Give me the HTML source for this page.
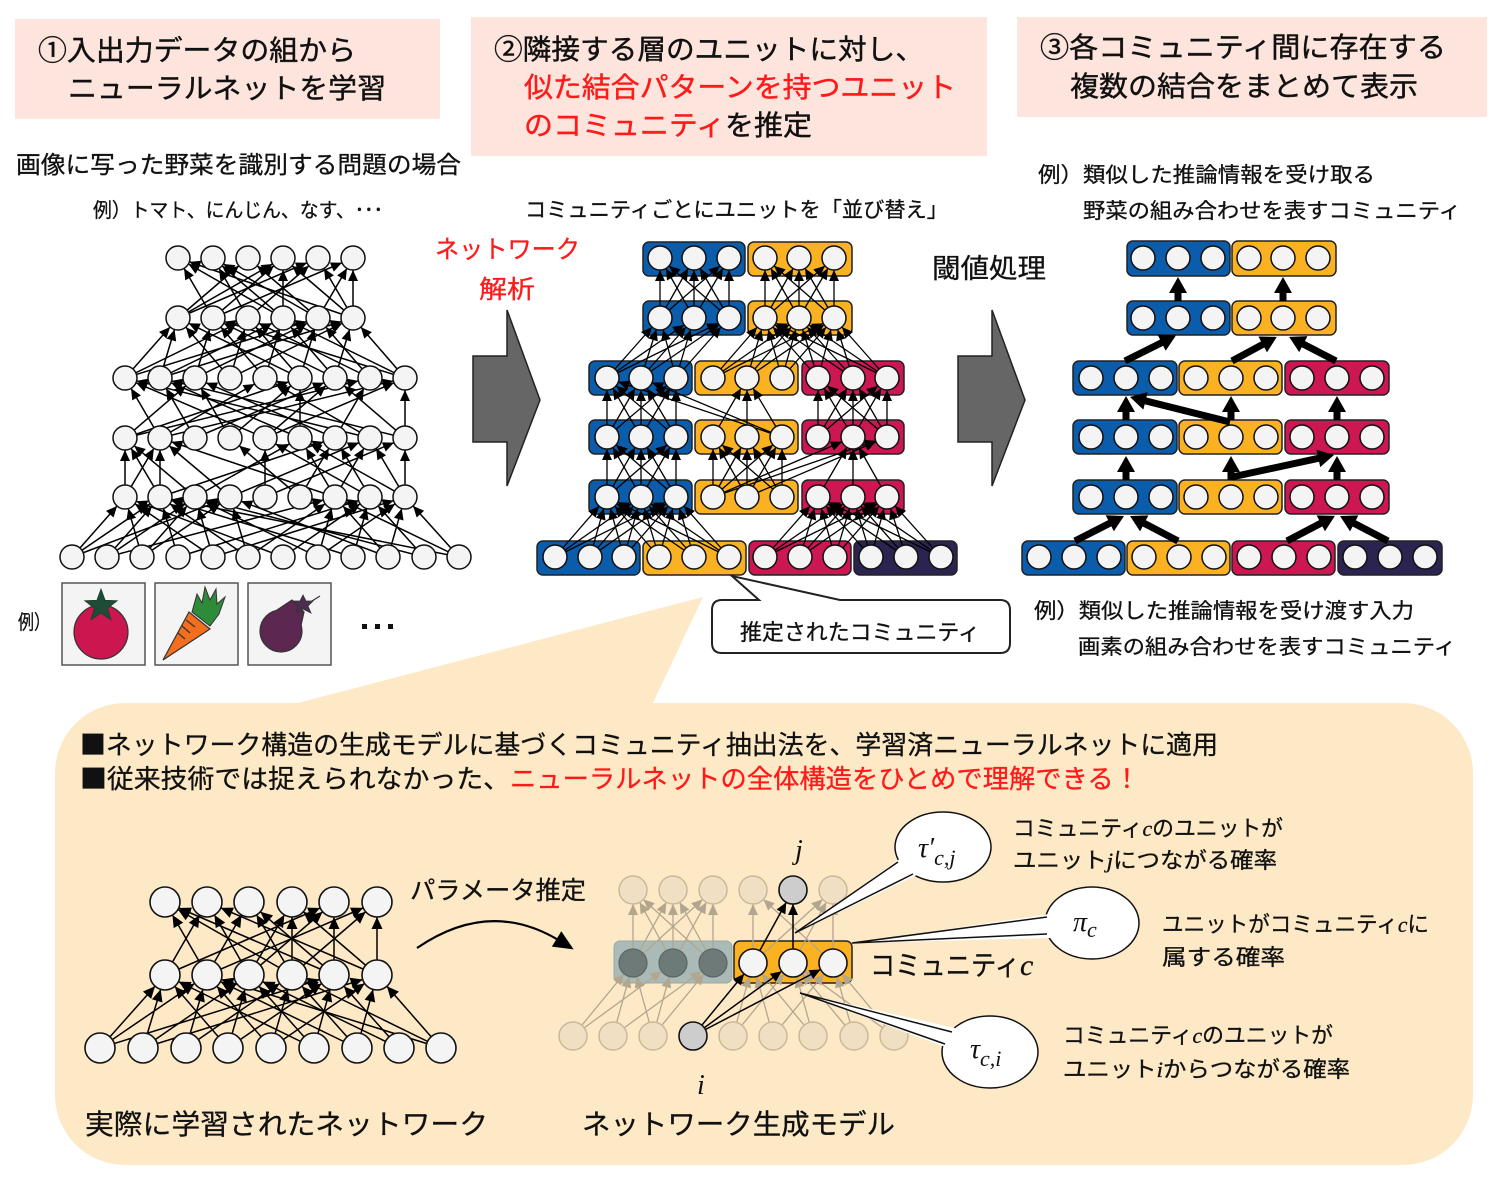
<!DOCTYPE html>
<html><head><meta charset="utf-8"><style>html,body{margin:0;padding:0;background:#fff}svg{display:block}</style></head>
<body>
<svg width="1500" height="1186" viewBox="0 0 1500 1186" xmlns="http://www.w3.org/2000/svg" font-family="'Liberation Sans','Noto Sans CJK JP',sans-serif">
<defs>
<marker id="a12" markerUnits="userSpaceOnUse" markerWidth="11" markerHeight="10" refX="23" refY="5" orient="auto" overflow="visible"><path d="M0,0L11,5L0,10z" fill="#000"/></marker>
<marker id="a15" markerUnits="userSpaceOnUse" markerWidth="12" markerHeight="11" refX="27" refY="5.5" orient="auto" overflow="visible"><path d="M0,0L12,5.5L0,11z" fill="#000"/></marker>
<marker id="a14" markerUnits="userSpaceOnUse" markerWidth="11" markerHeight="10" refX="25" refY="5" orient="auto" overflow="visible"><path d="M0,0L11,5L0,10z" fill="#000"/></marker>
<marker id="a14f" markerUnits="userSpaceOnUse" markerWidth="11" markerHeight="10" refX="25" refY="5" orient="auto" overflow="visible"><path d="M0,0L11,5L0,10z" fill="#b3a68e"/></marker>
<marker id="ath" markerUnits="userSpaceOnUse" markerWidth="18" markerHeight="18" refX="6" refY="9" orient="auto" overflow="visible"><path d="M0,0L16,9L0,18z" fill="#000"/></marker>
<marker id="acv" markerUnits="userSpaceOnUse" markerWidth="20" markerHeight="18" refX="4" refY="9" orient="auto" overflow="visible"><path d="M0,0L20,9L0,18z" fill="#000"/></marker>
</defs>
<rect width="1500" height="1186" fill="#fff"/>

<!-- header boxes -->
<rect x="15" y="19" width="425" height="100" fill="#fde4dc"/>
<rect x="471" y="17" width="516" height="139" fill="#fde4dc"/>
<rect x="1017" y="17" width="470" height="100" fill="#fde4dc"/>
<g font-size="28" fill="#111" stroke-width="0.4">
<text x="38" y="60" textLength="318" lengthAdjust="spacingAndGlyphs" stroke="#111">①入出力データの組から</text>
<text x="68" y="98" textLength="318" lengthAdjust="spacingAndGlyphs" stroke="#111">ニューラルネットを学習</text>
<text x="494" y="59" textLength="430" lengthAdjust="spacingAndGlyphs" stroke="#111">②隣接する層のユニットに対し、</text>
<text x="524" y="97" textLength="432" lengthAdjust="spacingAndGlyphs" fill="#ff1a1a" stroke="#ff1a1a">似た結合パターンを持つユニット</text>
<text x="524" y="135" textLength="288" lengthAdjust="spacingAndGlyphs" stroke="#111"><tspan fill="#ff1a1a" stroke="#ff1a1a">のコミュニティ</tspan>を推定</text>
<text x="1040" y="57" textLength="406" lengthAdjust="spacingAndGlyphs" stroke="#111">③各コミュニティ間に存在する</text>
<text x="1070" y="96" textLength="348" lengthAdjust="spacingAndGlyphs" stroke="#111">複数の結合をまとめて表示</text>
</g>
<g fill="#111" stroke="#111" stroke-width="0.3">
<text x="16" y="173" font-size="24" textLength="445" lengthAdjust="spacingAndGlyphs">画像に写った野菜を識別する問題の場合</text>
<text x="93" y="217" font-size="20" textLength="290" lengthAdjust="spacingAndGlyphs">例）トマト、にんじん、なす、･･･</text>
<text x="525" y="217" font-size="21" textLength="423" lengthAdjust="spacingAndGlyphs">コミュニティごとにユニットを「並び替え」</text>
<text x="932" y="278" font-size="27" textLength="114" lengthAdjust="spacingAndGlyphs">閾値処理</text>
<text x="1038" y="182" font-size="21" textLength="337" lengthAdjust="spacingAndGlyphs">例）類似した推論情報を受け取る</text>
<text x="1083" y="218" font-size="21" textLength="378" lengthAdjust="spacingAndGlyphs">野菜の組み合わせを表すコミュニティ</text>
<text x="1034" y="618" font-size="21" textLength="380" lengthAdjust="spacingAndGlyphs">例）類似した推論情報を受け渡す入力</text>
<text x="1078" y="654" font-size="21" textLength="378" lengthAdjust="spacingAndGlyphs">画素の組み合わせを表すコミュニティ</text>
<text x="18" y="629" font-size="20" textLength="32" lengthAdjust="spacingAndGlyphs">例）</text>
</g>
<g fill="#ff1a1a" font-size="25" stroke="#ff1a1a" stroke-width="0.3">
<text x="435" y="258" textLength="145" lengthAdjust="spacingAndGlyphs">ネットワーク</text>
<text x="479" y="298" textLength="56" lengthAdjust="spacingAndGlyphs">解析</text>
</g>

<!-- big gray arrows -->
<polygon points="473,356 507,356 507,310 540,400 507,486 507,442 473,442" fill="#666" stroke="#222" stroke-width="1.5"/>
<polygon points="958,356 992,356 992,310 1025,400 992,486 992,442 958,442" fill="#666" stroke="#222" stroke-width="1.5"/>

<!-- orange region -->
<rect x="55" y="703" width="1418" height="462" rx="70" fill="#fde9c6"/>
<polygon points="290,705 703,597 652,705" fill="#fde9c6"/>

<!-- LEFT NETWORK lines -->
<g stroke="#000" stroke-width="1.5" marker-end="url(#a12)">
<line x1="178" y1="318" x2="248" y2="258"/><line x1="178" y1="318" x2="283" y2="258"/><line x1="178" y1="318" x2="318" y2="258"/>
<line x1="213" y1="318" x2="178" y2="258"/><line x1="213" y1="318" x2="283" y2="258"/><line x1="213" y1="318" x2="353" y2="258"/>
<line x1="248" y1="318" x2="213" y2="258"/><line x1="248" y1="318" x2="318" y2="258"/>
<line x1="283" y1="318" x2="178" y2="258"/><line x1="283" y1="318" x2="213" y2="258"/><line x1="283" y1="318" x2="283" y2="258"/>
<line x1="318" y1="318" x2="213" y2="258"/><line x1="318" y1="318" x2="248" y2="258"/><line x1="318" y1="318" x2="353" y2="258"/>
<line x1="353" y1="318" x2="178" y2="258"/><line x1="353" y1="318" x2="283" y2="258"/><line x1="353" y1="318" x2="318" y2="258"/><line x1="353" y1="318" x2="353" y2="258"/>

<line x1="125" y1="378" x2="178" y2="318"/><line x1="125" y1="378" x2="248" y2="318"/><line x1="125" y1="378" x2="318" y2="318"/>
<line x1="160" y1="378" x2="178" y2="318"/><line x1="160" y1="378" x2="283" y2="318"/><line x1="160" y1="378" x2="353" y2="318"/>
<line x1="195" y1="378" x2="213" y2="318"/><line x1="195" y1="378" x2="318" y2="318"/>
<line x1="230" y1="378" x2="178" y2="318"/><line x1="230" y1="378" x2="248" y2="318"/><line x1="230" y1="378" x2="353" y2="318"/>
<line x1="265" y1="378" x2="213" y2="318"/><line x1="265" y1="378" x2="283" y2="318"/>
<line x1="300" y1="378" x2="248" y2="318"/><line x1="300" y1="378" x2="318" y2="318"/><line x1="300" y1="378" x2="178" y2="318"/>
<line x1="335" y1="378" x2="213" y2="318"/><line x1="335" y1="378" x2="283" y2="318"/><line x1="335" y1="378" x2="353" y2="318"/>
<line x1="370" y1="378" x2="248" y2="318"/><line x1="370" y1="378" x2="318" y2="318"/>
<line x1="405" y1="378" x2="353" y2="318"/><line x1="405" y1="378" x2="283" y2="318"/><line x1="405" y1="378" x2="213" y2="318"/>

<line x1="125" y1="438" x2="195" y2="378"/><line x1="125" y1="438" x2="300" y2="378"/><line x1="125" y1="438" x2="370" y2="378"/>
<line x1="160" y1="438" x2="125" y2="378"/><line x1="160" y1="438" x2="265" y2="378"/><line x1="160" y1="438" x2="405" y2="378"/>
<line x1="195" y1="438" x2="160" y2="378"/><line x1="195" y1="438" x2="335" y2="378"/>
<line x1="230" y1="438" x2="195" y2="378"/><line x1="230" y1="438" x2="300" y2="378"/>
<line x1="265" y1="438" x2="125" y2="378"/><line x1="265" y1="438" x2="335" y2="378"/><line x1="265" y1="438" x2="405" y2="378"/>
<line x1="300" y1="438" x2="300" y2="378"/><line x1="300" y1="438" x2="160" y2="378"/>
<line x1="335" y1="438" x2="195" y2="378"/><line x1="335" y1="438" x2="370" y2="378"/>
<line x1="370" y1="438" x2="125" y2="378"/><line x1="370" y1="438" x2="265" y2="378"/>
<line x1="405" y1="438" x2="405" y2="378"/><line x1="405" y1="438" x2="335" y2="378"/><line x1="405" y1="438" x2="160" y2="378"/>

<line x1="125" y1="497" x2="125" y2="438"/><line x1="125" y1="497" x2="160" y2="438"/>
<line x1="160" y1="497" x2="160" y2="438"/><line x1="160" y1="497" x2="125" y2="438"/><line x1="160" y1="497" x2="335" y2="438"/>
<line x1="195" y1="497" x2="125" y2="438"/><line x1="195" y1="497" x2="300" y2="438"/>
<line x1="230" y1="497" x2="160" y2="438"/><line x1="230" y1="497" x2="370" y2="438"/>
<line x1="265" y1="497" x2="265" y2="438"/><line x1="265" y1="497" x2="405" y2="438"/>
<line x1="300" y1="497" x2="335" y2="438"/><line x1="300" y1="497" x2="230" y2="438"/>
<line x1="335" y1="497" x2="300" y2="438"/><line x1="335" y1="497" x2="370" y2="438"/><line x1="335" y1="497" x2="160" y2="438"/>
<line x1="370" y1="497" x2="265" y2="438"/><line x1="370" y1="497" x2="335" y2="438"/>
<line x1="405" y1="497" x2="405" y2="438"/><line x1="405" y1="497" x2="300" y2="438"/><line x1="405" y1="497" x2="370" y2="438"/>

<line x1="72" y1="557" x2="125" y2="497"/><line x1="72" y1="557" x2="160" y2="497"/><line x1="72" y1="557" x2="230" y2="497"/>
<line x1="107" y1="557" x2="160" y2="497"/><line x1="107" y1="557" x2="195" y2="497"/><line x1="107" y1="557" x2="335" y2="497"/>
<line x1="142" y1="557" x2="125" y2="497"/><line x1="142" y1="557" x2="230" y2="497"/><line x1="142" y1="557" x2="195" y2="497"/>
<line x1="178" y1="557" x2="160" y2="497"/><line x1="178" y1="557" x2="370" y2="497"/>
<line x1="213" y1="557" x2="195" y2="497"/><line x1="213" y1="557" x2="125" y2="497"/><line x1="213" y1="557" x2="405" y2="497"/>
<line x1="248" y1="557" x2="230" y2="497"/><line x1="248" y1="557" x2="160" y2="497"/><line x1="248" y1="557" x2="335" y2="497"/>
<line x1="283" y1="557" x2="125" y2="497"/><line x1="283" y1="557" x2="370" y2="497"/>
<line x1="318" y1="557" x2="195" y2="497"/><line x1="318" y1="557" x2="335" y2="497"/><line x1="318" y1="557" x2="405" y2="497"/>
<line x1="353" y1="557" x2="160" y2="497"/><line x1="353" y1="557" x2="370" y2="497"/>
<line x1="388" y1="557" x2="230" y2="497"/><line x1="388" y1="557" x2="335" y2="497"/><line x1="388" y1="557" x2="405" y2="497"/>
<line x1="424" y1="557" x2="195" y2="497"/><line x1="424" y1="557" x2="370" y2="497"/>
<line x1="459" y1="557" x2="160" y2="497"/><line x1="459" y1="557" x2="335" y2="497"/><line x1="459" y1="557" x2="405" y2="497"/>
</g>
<!-- LEFT NETWORK circles -->
<g fill="#f4f4f4" stroke="#111" stroke-width="1.5">
<circle cx="178" cy="258" r="12"/><circle cx="213" cy="258" r="12"/><circle cx="248" cy="258" r="12"/><circle cx="283" cy="258" r="12"/><circle cx="318" cy="258" r="12"/><circle cx="353" cy="258" r="12"/>
<circle cx="178" cy="318" r="12"/><circle cx="213" cy="318" r="12"/><circle cx="248" cy="318" r="12"/><circle cx="283" cy="318" r="12"/><circle cx="318" cy="318" r="12"/><circle cx="353" cy="318" r="12"/>
<circle cx="125" cy="378" r="12"/><circle cx="160" cy="378" r="12"/><circle cx="195" cy="378" r="12"/><circle cx="230" cy="378" r="12"/><circle cx="265" cy="378" r="12"/><circle cx="300" cy="378" r="12"/><circle cx="335" cy="378" r="12"/><circle cx="370" cy="378" r="12"/><circle cx="405" cy="378" r="12"/>
<circle cx="125" cy="438" r="12"/><circle cx="160" cy="438" r="12"/><circle cx="195" cy="438" r="12"/><circle cx="230" cy="438" r="12"/><circle cx="265" cy="438" r="12"/><circle cx="300" cy="438" r="12"/><circle cx="335" cy="438" r="12"/><circle cx="370" cy="438" r="12"/><circle cx="405" cy="438" r="12"/>
<circle cx="125" cy="497" r="12"/><circle cx="160" cy="497" r="12"/><circle cx="195" cy="497" r="12"/><circle cx="230" cy="497" r="12"/><circle cx="265" cy="497" r="12"/><circle cx="300" cy="497" r="12"/><circle cx="335" cy="497" r="12"/><circle cx="370" cy="497" r="12"/><circle cx="405" cy="497" r="12"/>
<circle cx="72" cy="557" r="12"/><circle cx="107" cy="557" r="12"/><circle cx="142" cy="557" r="12"/><circle cx="178" cy="557" r="12"/><circle cx="213" cy="557" r="12"/><circle cx="248" cy="557" r="12"/><circle cx="283" cy="557" r="12"/><circle cx="318" cy="557" r="12"/><circle cx="353" cy="557" r="12"/><circle cx="388" cy="557" r="12"/><circle cx="424" cy="557" r="12"/><circle cx="459" cy="557" r="12"/>
</g>

<!-- vegetables -->
<g stroke="#555" stroke-width="1.5" fill="#f4f4f4">
<rect x="62" y="583" width="83" height="82"/><rect x="155" y="583" width="83" height="82"/><rect x="248" y="583" width="83" height="82"/>
</g>
<circle cx="101" cy="632" r="27" fill="#cc1650" stroke="#333" stroke-width="1.2"/>
<polygon points="101,589 105.1,600.3 117.2,600.7 107.7,608.2 111,619.8 101,613 91,619.8 94.3,608.2 84.8,600.7 96.9,600.3" fill="#1d4d36" stroke="#1d3d2a" stroke-width="0.8"/>
<polygon points="192,612 197,594 202,603 205,587 210,600 216,589 217,604 225,597 219,614 210,626" fill="#2e8b3a" stroke="#333" stroke-width="1"/>
<polygon points="163,660 189,612 210,629" fill="#f36f1d" stroke="#333" stroke-width="1.2"/>
<g stroke="#333" stroke-width="1.2"><line x1="182" y1="626" x2="190" y2="633"/><line x1="186" y1="620" x2="195" y2="627"/><line x1="178" y1="633" x2="185" y2="639"/></g>
<polygon points="268,616 292,600 304,612 300,630" fill="#5c2750" stroke="#333" stroke-width="1.2"/>
<circle cx="281" cy="631" r="21" fill="#5c2750" stroke="#333" stroke-width="1.2"/>
<polygon points="269,617 292,601 303,613 299,630 285,625" fill="#5c2750"/>
<line x1="304" y1="606" x2="320" y2="596" stroke="#333" stroke-width="1.2"/>
<polygon points="303,595 306,601 313,601 308,606 311,613 303,609 296,613 298,606 293,601 300,601" fill="#4b2e4d" stroke="#333" stroke-width="0.8"/>
<g fill="#111"><rect x="362" y="624" width="5" height="5"/><rect x="375" y="624" width="5" height="5"/><rect x="388" y="624" width="5" height="5"/></g>

<!-- MIDDLE NETWORK boxes -->
<g stroke="#222" stroke-width="1.5">
<rect x="643" y="242" width="102" height="34" rx="6" fill="#0b5cab"/><rect x="748" y="242" width="104" height="34" rx="6" fill="#fbb222"/>
<rect x="643" y="301" width="102" height="34" rx="6" fill="#0b5cab"/><rect x="748" y="301" width="104" height="34" rx="6" fill="#fbb222"/>
<rect x="589" y="361" width="103" height="34" rx="6" fill="#0b5cab"/><rect x="695" y="361" width="103" height="34" rx="6" fill="#fbb222"/><rect x="802" y="361" width="102" height="34" rx="6" fill="#cc1752"/>
<rect x="589" y="420" width="103" height="34" rx="6" fill="#0b5cab"/><rect x="695" y="420" width="103" height="34" rx="6" fill="#fbb222"/><rect x="802" y="420" width="102" height="34" rx="6" fill="#cc1752"/>
<rect x="589" y="480" width="103" height="34" rx="6" fill="#0b5cab"/><rect x="695" y="480" width="103" height="34" rx="6" fill="#fbb222"/><rect x="802" y="480" width="102" height="34" rx="6" fill="#cc1752"/>
<rect x="537" y="541" width="103" height="34" rx="6" fill="#0b5cab"/><rect x="643" y="541" width="103" height="34" rx="6" fill="#fbb222"/><rect x="749" y="541" width="102" height="34" rx="6" fill="#cc1752"/><rect x="854" y="541" width="103" height="34" rx="6" fill="#2b2350"/>
</g>
<!-- MIDDLE NETWORK lines -->
<g stroke="#000" stroke-width="1.3" marker-end="url(#a12)">
<line x1="660" y1="318" x2="660" y2="258"/><line x1="660" y1="318" x2="694" y2="258"/><line x1="660" y1="318" x2="729" y2="258"/>
<line x1="694" y1="318" x2="660" y2="258"/><line x1="694" y1="318" x2="694" y2="258"/><line x1="694" y1="318" x2="729" y2="258"/>
<line x1="729" y1="318" x2="660" y2="258"/><line x1="729" y1="318" x2="694" y2="258"/><line x1="729" y1="318" x2="729" y2="258"/>
<line x1="765" y1="318" x2="765" y2="258"/><line x1="765" y1="318" x2="799" y2="258"/><line x1="765" y1="318" x2="834" y2="258"/>
<line x1="799" y1="318" x2="765" y2="258"/><line x1="799" y1="318" x2="799" y2="258"/><line x1="799" y1="318" x2="834" y2="258"/>
<line x1="834" y1="318" x2="765" y2="258"/><line x1="834" y1="318" x2="799" y2="258"/><line x1="834" y1="318" x2="834" y2="258"/>

<line x1="607" y1="378" x2="660" y2="318"/><line x1="607" y1="378" x2="694" y2="318"/><line x1="607" y1="378" x2="729" y2="318"/>
<line x1="641" y1="378" x2="660" y2="318"/><line x1="641" y1="378" x2="694" y2="318"/><line x1="641" y1="378" x2="729" y2="318"/>
<line x1="676" y1="378" x2="660" y2="318"/><line x1="676" y1="378" x2="694" y2="318"/><line x1="676" y1="378" x2="729" y2="318"/>
<line x1="713" y1="378" x2="765" y2="318"/><line x1="713" y1="378" x2="799" y2="318"/><line x1="713" y1="378" x2="834" y2="318"/>
<line x1="747" y1="378" x2="765" y2="318"/><line x1="747" y1="378" x2="799" y2="318"/><line x1="747" y1="378" x2="834" y2="318"/>
<line x1="782" y1="378" x2="765" y2="318"/><line x1="782" y1="378" x2="799" y2="318"/><line x1="782" y1="378" x2="834" y2="318"/>
<line x1="818" y1="378" x2="765" y2="318"/><line x1="818" y1="378" x2="799" y2="318"/><line x1="818" y1="378" x2="834" y2="318"/>
<line x1="853" y1="378" x2="765" y2="318"/><line x1="853" y1="378" x2="799" y2="318"/><line x1="853" y1="378" x2="834" y2="318"/>
<line x1="887" y1="378" x2="765" y2="318"/><line x1="887" y1="378" x2="799" y2="318"/><line x1="887" y1="378" x2="834" y2="318"/>

<line x1="607" y1="437" x2="607" y2="378"/><line x1="607" y1="437" x2="641" y2="378"/><line x1="607" y1="437" x2="676" y2="378"/>
<line x1="641" y1="437" x2="607" y2="378"/><line x1="641" y1="437" x2="641" y2="378"/><line x1="641" y1="437" x2="676" y2="378"/>
<line x1="676" y1="437" x2="607" y2="378"/><line x1="676" y1="437" x2="641" y2="378"/><line x1="676" y1="437" x2="676" y2="378"/>
<line x1="713" y1="437" x2="747" y2="378"/><line x1="747" y1="437" x2="747" y2="378"/><line x1="782" y1="437" x2="747" y2="378"/>
<line x1="782" y1="437" x2="607" y2="378"/><line x1="782" y1="437" x2="641" y2="378"/>
<line x1="818" y1="437" x2="818" y2="378"/><line x1="818" y1="437" x2="853" y2="378"/><line x1="818" y1="437" x2="887" y2="378"/>
<line x1="853" y1="437" x2="818" y2="378"/><line x1="853" y1="437" x2="853" y2="378"/><line x1="853" y1="437" x2="887" y2="378"/>
<line x1="887" y1="437" x2="818" y2="378"/><line x1="887" y1="437" x2="853" y2="378"/><line x1="887" y1="437" x2="887" y2="378"/>

<line x1="607" y1="497" x2="607" y2="437"/><line x1="607" y1="497" x2="641" y2="437"/><line x1="607" y1="497" x2="676" y2="437"/>
<line x1="641" y1="497" x2="607" y2="437"/><line x1="641" y1="497" x2="641" y2="437"/><line x1="641" y1="497" x2="676" y2="437"/>
<line x1="676" y1="497" x2="607" y2="437"/><line x1="676" y1="497" x2="641" y2="437"/><line x1="676" y1="497" x2="676" y2="437"/>
<line x1="713" y1="497" x2="713" y2="437"/><line x1="713" y1="497" x2="747" y2="437"/><line x1="713" y1="497" x2="782" y2="437"/>
<line x1="747" y1="497" x2="713" y2="437"/><line x1="747" y1="497" x2="747" y2="437"/><line x1="747" y1="497" x2="782" y2="437"/>
<line x1="782" y1="497" x2="713" y2="437"/><line x1="782" y1="497" x2="747" y2="437"/><line x1="782" y1="497" x2="782" y2="437"/>
<line x1="818" y1="497" x2="853" y2="437"/><line x1="853" y1="497" x2="853" y2="437"/><line x1="887" y1="497" x2="853" y2="437"/>
<line x1="713" y1="497" x2="887" y2="437"/><line x1="747" y1="497" x2="887" y2="437"/><line x1="713" y1="497" x2="853" y2="437"/>

<line x1="555" y1="557" x2="607" y2="497"/><line x1="555" y1="557" x2="641" y2="497"/><line x1="555" y1="557" x2="676" y2="497"/>
<line x1="590" y1="557" x2="607" y2="497"/><line x1="590" y1="557" x2="641" y2="497"/><line x1="590" y1="557" x2="676" y2="497"/>
<line x1="624" y1="557" x2="607" y2="497"/><line x1="624" y1="557" x2="641" y2="497"/><line x1="624" y1="557" x2="676" y2="497"/>
<line x1="659" y1="557" x2="607" y2="497"/><line x1="659" y1="557" x2="641" y2="497"/><line x1="659" y1="557" x2="676" y2="497"/>
<line x1="694" y1="557" x2="607" y2="497"/><line x1="694" y1="557" x2="641" y2="497"/><line x1="694" y1="557" x2="676" y2="497"/>
<line x1="729" y1="557" x2="607" y2="497"/><line x1="729" y1="557" x2="641" y2="497"/><line x1="729" y1="557" x2="676" y2="497"/>
<line x1="765" y1="557" x2="818" y2="497"/><line x1="765" y1="557" x2="853" y2="497"/><line x1="765" y1="557" x2="887" y2="497"/>
<line x1="800" y1="557" x2="818" y2="497"/><line x1="800" y1="557" x2="853" y2="497"/><line x1="800" y1="557" x2="887" y2="497"/>
<line x1="835" y1="557" x2="818" y2="497"/><line x1="835" y1="557" x2="853" y2="497"/><line x1="835" y1="557" x2="887" y2="497"/>
<line x1="871" y1="557" x2="818" y2="497"/><line x1="871" y1="557" x2="853" y2="497"/><line x1="871" y1="557" x2="887" y2="497"/>
<line x1="906" y1="557" x2="818" y2="497"/><line x1="906" y1="557" x2="853" y2="497"/><line x1="906" y1="557" x2="887" y2="497"/>
<line x1="941" y1="557" x2="818" y2="497"/><line x1="941" y1="557" x2="853" y2="497"/><line x1="941" y1="557" x2="887" y2="497"/>
</g>
<!-- MIDDLE circles -->
<g fill="#f4f4f4" stroke="#111" stroke-width="1.5">
<circle cx="660" cy="258" r="12"/><circle cx="694" cy="258" r="12"/><circle cx="729" cy="258" r="12"/><circle cx="765" cy="258" r="12"/><circle cx="799" cy="258" r="12"/><circle cx="834" cy="258" r="12"/>
<circle cx="660" cy="318" r="12"/><circle cx="694" cy="318" r="12"/><circle cx="729" cy="318" r="12"/><circle cx="765" cy="318" r="12"/><circle cx="799" cy="318" r="12"/><circle cx="834" cy="318" r="12"/>
<circle cx="607" cy="378" r="12"/><circle cx="641" cy="378" r="12"/><circle cx="676" cy="378" r="12"/><circle cx="713" cy="378" r="12"/><circle cx="747" cy="378" r="12"/><circle cx="782" cy="378" r="12"/><circle cx="818" cy="378" r="12"/><circle cx="853" cy="378" r="12"/><circle cx="887" cy="378" r="12"/>
<circle cx="607" cy="437" r="12"/><circle cx="641" cy="437" r="12"/><circle cx="676" cy="437" r="12"/><circle cx="713" cy="437" r="12"/><circle cx="747" cy="437" r="12"/><circle cx="782" cy="437" r="12"/><circle cx="818" cy="437" r="12"/><circle cx="853" cy="437" r="12"/><circle cx="887" cy="437" r="12"/>
<circle cx="607" cy="497" r="12"/><circle cx="641" cy="497" r="12"/><circle cx="676" cy="497" r="12"/><circle cx="713" cy="497" r="12"/><circle cx="747" cy="497" r="12"/><circle cx="782" cy="497" r="12"/><circle cx="818" cy="497" r="12"/><circle cx="853" cy="497" r="12"/><circle cx="887" cy="497" r="12"/>
<circle cx="555" cy="557" r="12"/><circle cx="590" cy="557" r="12"/><circle cx="624" cy="557" r="12"/><circle cx="659" cy="557" r="12"/><circle cx="694" cy="557" r="12"/><circle cx="729" cy="557" r="12"/><circle cx="765" cy="557" r="12"/><circle cx="800" cy="557" r="12"/><circle cx="835" cy="557" r="12"/><circle cx="871" cy="557" r="12"/><circle cx="906" cy="557" r="12"/><circle cx="941" cy="557" r="12"/>
</g>

<!-- callout -->
<path d="M722,600 L759,600 L732,576 L840,600 L1000,600 Q1010,600 1010,610 L1010,643 Q1010,653 1000,653 L722,653 Q712,653 712,643 L712,610 Q712,600 722,600 Z" fill="#fff" stroke="#222" stroke-width="2"/>
<text x="740" y="640" font-size="22" fill="#111" stroke="#111" stroke-width="0.3" textLength="240" lengthAdjust="spacingAndGlyphs">推定されたコミュニティ</text>

<!-- RIGHT NETWORK boxes -->
<g stroke="#222" stroke-width="1.5">
<rect x="1127" y="241" width="103" height="35" rx="6" fill="#0b5cab"/><rect x="1232" y="241" width="104" height="35" rx="6" fill="#fbb222"/>
<rect x="1127" y="301" width="103" height="34" rx="6" fill="#0b5cab"/><rect x="1232" y="301" width="104" height="34" rx="6" fill="#fbb222"/>
<rect x="1073" y="361" width="104" height="34" rx="6" fill="#0b5cab"/><rect x="1179" y="361" width="103" height="34" rx="6" fill="#fbb222"/><rect x="1285" y="361" width="104" height="34" rx="6" fill="#cc1752"/>
<rect x="1073" y="420" width="104" height="34" rx="6" fill="#0b5cab"/><rect x="1179" y="420" width="103" height="34" rx="6" fill="#fbb222"/><rect x="1285" y="420" width="104" height="34" rx="6" fill="#cc1752"/>
<rect x="1073" y="480" width="104" height="34" rx="6" fill="#0b5cab"/><rect x="1179" y="480" width="103" height="34" rx="6" fill="#fbb222"/><rect x="1285" y="480" width="104" height="34" rx="6" fill="#cc1752"/>
<rect x="1022" y="541" width="103" height="34" rx="6" fill="#0b5cab"/><rect x="1127" y="541" width="103" height="34" rx="6" fill="#fbb222"/><rect x="1232" y="541" width="103" height="34" rx="6" fill="#cc1752"/><rect x="1338" y="541" width="104" height="34" rx="6" fill="#2b2350"/>
</g>
<g fill="#f4f4f4" stroke="#111" stroke-width="1.5">
<circle cx="1143" cy="258" r="12"/><circle cx="1178" cy="258" r="12"/><circle cx="1213" cy="258" r="12"/><circle cx="1249" cy="258" r="12"/><circle cx="1283" cy="258" r="12"/><circle cx="1318" cy="258" r="12"/>
<circle cx="1143" cy="318" r="12"/><circle cx="1178" cy="318" r="12"/><circle cx="1213" cy="318" r="12"/><circle cx="1249" cy="318" r="12"/><circle cx="1283" cy="318" r="12"/><circle cx="1318" cy="318" r="12"/>
<circle cx="1091" cy="378" r="12"/><circle cx="1126" cy="378" r="12"/><circle cx="1161" cy="378" r="12"/><circle cx="1196" cy="378" r="12"/><circle cx="1231" cy="378" r="12"/><circle cx="1266" cy="378" r="12"/><circle cx="1302" cy="378" r="12"/><circle cx="1337" cy="378" r="12"/><circle cx="1372" cy="378" r="12"/>
<circle cx="1091" cy="437" r="12"/><circle cx="1126" cy="437" r="12"/><circle cx="1161" cy="437" r="12"/><circle cx="1196" cy="437" r="12"/><circle cx="1231" cy="437" r="12"/><circle cx="1266" cy="437" r="12"/><circle cx="1302" cy="437" r="12"/><circle cx="1337" cy="437" r="12"/><circle cx="1372" cy="437" r="12"/>
<circle cx="1091" cy="497" r="12"/><circle cx="1126" cy="497" r="12"/><circle cx="1161" cy="497" r="12"/><circle cx="1196" cy="497" r="12"/><circle cx="1231" cy="497" r="12"/><circle cx="1266" cy="497" r="12"/><circle cx="1302" cy="497" r="12"/><circle cx="1337" cy="497" r="12"/><circle cx="1372" cy="497" r="12"/>
<circle cx="1039" cy="557" r="12"/><circle cx="1074" cy="557" r="12"/><circle cx="1109" cy="557" r="12"/><circle cx="1144" cy="557" r="12"/><circle cx="1179" cy="557" r="12"/><circle cx="1214" cy="557" r="12"/><circle cx="1249" cy="557" r="12"/><circle cx="1284" cy="557" r="12"/><circle cx="1319" cy="557" r="12"/><circle cx="1355" cy="557" r="12"/><circle cx="1390" cy="557" r="12"/><circle cx="1425" cy="557" r="12"/>
</g>
<!-- RIGHT thick arrows -->
<g stroke="#000" stroke-width="7" marker-end="url(#ath)">
<line x1="1178" y1="301" x2="1178" y2="287"/><line x1="1283" y1="301" x2="1283" y2="287"/>
<line x1="1125" y1="361" x2="1167" y2="340"/><line x1="1232" y1="361" x2="1268" y2="341.6"/><line x1="1336" y1="361" x2="1298" y2="341.4"/>
<line x1="1126" y1="420" x2="1126" y2="406"/><line x1="1231" y1="420" x2="1231" y2="406"/><line x1="1337" y1="420" x2="1337" y2="406"/>
<line x1="1230" y1="422" x2="1139.7" y2="399.4"/>
<line x1="1126" y1="480" x2="1126" y2="466"/><line x1="1231" y1="480" x2="1231" y2="466"/><line x1="1337" y1="480" x2="1337" y2="466"/>
<line x1="1232" y1="477" x2="1324.2" y2="457.1"/>
<line x1="1075" y1="541" x2="1115.1" y2="520.5"/><line x1="1178" y1="541" x2="1138.9" y2="520.6"/>
<line x1="1287" y1="541" x2="1326.1" y2="520.5"/><line x1="1388" y1="541" x2="1348.9" y2="520.6"/>
</g>

<!-- bullets -->
<g font-size="26" stroke-width="0.3">
<text x="80" y="754" fill="#111" stroke="#111" textLength="1138" lengthAdjust="spacingAndGlyphs"><tspan font-family="'Noto Sans CJK JP',sans-serif">■</tspan>ネットワーク構造の生成モデルに基づくコミュニティ抽出法を、学習済ニューラルネットに適用</text>
<text x="80" y="788" fill="#111" stroke="#111" textLength="430" lengthAdjust="spacingAndGlyphs"><tspan font-family="'Noto Sans CJK JP',sans-serif">■</tspan>従来技術では捉えられなかった、</text>
<text x="510" y="788" fill="#ff1a1a" stroke="#ff1a1a" textLength="630" lengthAdjust="spacingAndGlyphs">ニューラルネットの全体構造をひとめで理解できる！</text>
</g>

<!-- BOTTOM LEFT NETWORK -->
<g stroke="#000" stroke-width="1.5" marker-end="url(#a15)">
<line x1="165" y1="975" x2="207" y2="902"/><line x1="165" y1="975" x2="334" y2="902"/>
<line x1="207" y1="975" x2="165" y2="902"/><line x1="207" y1="975" x2="249" y2="902"/><line x1="207" y1="975" x2="377" y2="902"/>
<line x1="249" y1="975" x2="207" y2="902"/><line x1="249" y1="975" x2="292" y2="902"/><line x1="249" y1="975" x2="334" y2="902"/>
<line x1="292" y1="975" x2="165" y2="902"/><line x1="292" y1="975" x2="249" y2="902"/><line x1="292" y1="975" x2="292" y2="902"/><line x1="292" y1="975" x2="377" y2="902"/>
<line x1="334" y1="975" x2="165" y2="902"/><line x1="334" y1="975" x2="249" y2="902"/><line x1="334" y1="975" x2="334" y2="902"/>
<line x1="377" y1="975" x2="207" y2="902"/><line x1="377" y1="975" x2="292" y2="902"/><line x1="377" y1="975" x2="377" y2="902"/>
<line x1="100" y1="1048" x2="165" y2="975"/><line x1="100" y1="1048" x2="207" y2="975"/><line x1="100" y1="1048" x2="334" y2="975"/>
<line x1="143" y1="1048" x2="165" y2="975"/><line x1="143" y1="1048" x2="249" y2="975"/><line x1="143" y1="1048" x2="377" y2="975"/>
<line x1="186" y1="1048" x2="207" y2="975"/><line x1="186" y1="1048" x2="292" y2="975"/>
<line x1="228" y1="1048" x2="165" y2="975"/><line x1="228" y1="1048" x2="249" y2="975"/><line x1="228" y1="1048" x2="334" y2="975"/>
<line x1="271" y1="1048" x2="207" y2="975"/><line x1="271" y1="1048" x2="292" y2="975"/><line x1="271" y1="1048" x2="377" y2="975"/>
<line x1="314" y1="1048" x2="165" y2="975"/><line x1="314" y1="1048" x2="249" y2="975"/><line x1="314" y1="1048" x2="334" y2="975"/>
<line x1="357" y1="1048" x2="207" y2="975"/><line x1="357" y1="1048" x2="292" y2="975"/><line x1="357" y1="1048" x2="377" y2="975"/>
<line x1="399" y1="1048" x2="249" y2="975"/><line x1="399" y1="1048" x2="334" y2="975"/>
<line x1="441" y1="1048" x2="207" y2="975"/><line x1="441" y1="1048" x2="292" y2="975"/><line x1="441" y1="1048" x2="377" y2="975"/>
</g>
<g fill="#f4f4f4" stroke="#111" stroke-width="1.6">
<circle cx="165" cy="902" r="15"/><circle cx="207" cy="902" r="15"/><circle cx="249" cy="902" r="15"/><circle cx="292" cy="902" r="15"/><circle cx="334" cy="902" r="15"/><circle cx="377" cy="902" r="15"/>
<circle cx="165" cy="975" r="15"/><circle cx="207" cy="975" r="15"/><circle cx="249" cy="975" r="15"/><circle cx="292" cy="975" r="15"/><circle cx="334" cy="975" r="15"/><circle cx="377" cy="975" r="15"/>
<circle cx="100" cy="1048" r="15"/><circle cx="143" cy="1048" r="15"/><circle cx="186" cy="1048" r="15"/><circle cx="228" cy="1048" r="15"/><circle cx="271" cy="1048" r="15"/><circle cx="314" cy="1048" r="15"/><circle cx="357" cy="1048" r="15"/><circle cx="399" cy="1048" r="15"/><circle cx="441" cy="1048" r="15"/>
</g>
<g stroke="#111" stroke-width="0.3" fill="#111">
<text x="410" y="899" font-size="25" textLength="176" lengthAdjust="spacingAndGlyphs">パラメータ推定</text>
<text x="85" y="1134" font-size="28" textLength="403" lengthAdjust="spacingAndGlyphs">実際に学習されたネットワーク</text>
<text x="582" y="1134" font-size="28" textLength="313" lengthAdjust="spacingAndGlyphs">ネットワーク生成モデル</text>
</g>
<path d="M417,948 Q490,898 560,941" fill="none" stroke="#000" stroke-width="2.2" marker-end="url(#acv)"/>

<!-- BOTTOM MIDDLE MODEL -->
<rect x="614" y="941" width="118" height="42" rx="6" fill="#a9bab7" stroke="#98aaa7" stroke-width="1"/>
<rect x="734" y="941" width="118" height="42" rx="6" fill="#fbb222" stroke="#222" stroke-width="1.5"/>
<g stroke="#b3a68e" stroke-width="1.3" marker-end="url(#a14f)">
<line x1="633" y1="963" x2="633" y2="890"/><line x1="633" y1="963" x2="673" y2="890"/><line x1="633" y1="963" x2="713" y2="890"/>
<line x1="673" y1="963" x2="633" y2="890"/><line x1="673" y1="963" x2="673" y2="890"/><line x1="673" y1="963" x2="713" y2="890"/>
<line x1="713" y1="963" x2="673" y2="890"/><line x1="713" y1="963" x2="713" y2="890"/><line x1="713" y1="963" x2="633" y2="890"/>
<line x1="753" y1="963" x2="753" y2="890"/><line x1="753" y1="963" x2="833" y2="890"/><line x1="833" y1="963" x2="833" y2="890"/><line x1="833" y1="963" x2="753" y2="890"/><line x1="793" y1="963" x2="833" y2="890"/>
<line x1="573" y1="1036" x2="633" y2="963"/><line x1="573" y1="1036" x2="673" y2="963"/><line x1="613" y1="1036" x2="633" y2="963"/><line x1="613" y1="1036" x2="713" y2="963"/>
<line x1="653" y1="1036" x2="673" y2="963"/><line x1="653" y1="1036" x2="713" y2="963"/><line x1="653" y1="1036" x2="633" y2="963"/>
<line x1="733" y1="1036" x2="753" y2="963"/><line x1="733" y1="1036" x2="793" y2="963"/><line x1="773" y1="1036" x2="753" y2="963"/><line x1="773" y1="1036" x2="833" y2="963"/>
<line x1="813" y1="1036" x2="793" y2="963"/><line x1="813" y1="1036" x2="753" y2="963"/><line x1="854" y1="1036" x2="793" y2="963"/><line x1="854" y1="1036" x2="833" y2="963"/>
<line x1="894" y1="1036" x2="833" y2="963"/><line x1="894" y1="1036" x2="793" y2="963"/>
</g>
<g stroke="#000" stroke-width="1.5" marker-end="url(#a14)">
<line x1="753" y1="963" x2="793" y2="890"/><line x1="793" y1="963" x2="793" y2="890"/>
<line x1="693" y1="1036" x2="753" y2="963"/><line x1="693" y1="1036" x2="793" y2="963"/><line x1="693" y1="1036" x2="833" y2="963"/>
</g>
<g fill="#f0dfc2" stroke="#c9b99a" stroke-width="1.5">
<circle cx="633" cy="890" r="14"/><circle cx="673" cy="890" r="14"/><circle cx="713" cy="890" r="14"/><circle cx="753" cy="890" r="14"/><circle cx="833" cy="890" r="14"/>
<circle cx="573" cy="1036" r="14"/><circle cx="613" cy="1036" r="14"/><circle cx="653" cy="1036" r="14"/><circle cx="733" cy="1036" r="14"/><circle cx="773" cy="1036" r="14"/><circle cx="813" cy="1036" r="14"/><circle cx="854" cy="1036" r="14"/><circle cx="894" cy="1036" r="14"/>
</g>
<g fill="#6e7a77" stroke="#5c6664" stroke-width="1.2">
<circle cx="633" cy="963" r="14"/><circle cx="673" cy="963" r="14"/><circle cx="713" cy="963" r="14"/>
</g>
<g fill="#f4f4f4" stroke="#111" stroke-width="1.6">
<circle cx="753" cy="963" r="14"/><circle cx="793" cy="963" r="14"/><circle cx="833" cy="963" r="14"/>
</g>
<g fill="#cdcdcd" stroke="#111" stroke-width="1.6">
<circle cx="793" cy="890" r="14"/><circle cx="693" cy="1036" r="14"/>
</g>
<text x="795" y="859" font-size="28" font-family="'Liberation Serif',serif" font-style="italic" fill="#111">j</text>
<text x="697" y="1094" font-size="28" font-family="'Liberation Serif',serif" font-style="italic" fill="#111">i</text>
<text x="870" y="975" font-size="28" fill="#111" stroke="#111" stroke-width="0.3"><tspan textLength="150" lengthAdjust="spacingAndGlyphs">コミュニティ</tspan><tspan font-family="'Liberation Serif',serif" font-style="italic" font-size="30">c</tspan></text>

<!-- bubbles -->
<g fill="#fff" stroke="#111" stroke-width="1.5">
<ellipse cx="943" cy="847" rx="48" ry="35"/>
<ellipse cx="1092" cy="923" rx="47" ry="36"/>
<ellipse cx="990" cy="1052" rx="48" ry="36"/>
</g>
<g fill="#fff">
<polygon points="901,858 795,933 917,875 922,866"/>
<polygon points="1050,914 852,943 1050,938"/>
<polygon points="955,1028 800,993 948,1048"/>
</g>
<g stroke="#111" stroke-width="1.5" fill="none">
<polyline points="898,862 795,933 913,874"/>
<polyline points="1047,917 852,943 1047,934"/>
<polyline points="952,1032 800,993 945,1044"/>
</g>
<g font-family="'Liberation Serif',serif" font-style="italic" fill="#111">
<text x="918" y="857" font-size="28">τ′<tspan font-size="22" dy="8">c,j</tspan></text>
<text x="1073" y="931" font-size="28">π<tspan font-size="22" dy="6">c</tspan></text>
<text x="970" y="1058" font-size="28">τ<tspan font-size="22" dy="8">c,i</tspan></text>
</g>
<g font-size="22" fill="#111" stroke="#111" stroke-width="0.3">
<text x="1013" y="836" textLength="270" lengthAdjust="spacingAndGlyphs">コミュニティ<tspan font-family="'Liberation Serif',serif" font-style="italic">c</tspan>のユニットが</text>
<text x="1013" y="868" textLength="264" lengthAdjust="spacingAndGlyphs">ユニット<tspan font-family="'Liberation Serif',serif" font-style="italic">j</tspan>につながる確率</text>
<text x="1162" y="932" textLength="267" lengthAdjust="spacingAndGlyphs">ユニットがコミュニティ<tspan font-family="'Liberation Serif',serif" font-style="italic">c</tspan>に</text>
<text x="1162" y="965" textLength="123" lengthAdjust="spacingAndGlyphs">属する確率</text>
<text x="1063" y="1043" textLength="270" lengthAdjust="spacingAndGlyphs">コミュニティ<tspan font-family="'Liberation Serif',serif" font-style="italic">c</tspan>のユニットが</text>
<text x="1063" y="1077" textLength="287" lengthAdjust="spacingAndGlyphs">ユニット<tspan font-family="'Liberation Serif',serif" font-style="italic">i</tspan>からつながる確率</text>
</g>
</svg>
</body></html>
